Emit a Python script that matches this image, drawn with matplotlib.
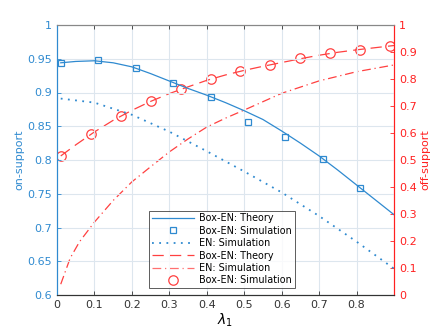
import matplotlib
matplotlib.use("Agg")
import matplotlib.pyplot as plt
from matplotlib.lines import Line2D

# ---- data ----
x_theory = [0.01, 0.05, 0.10, 0.15, 0.20, 0.25, 0.30, 0.35, 0.40, 0.45,
            0.50, 0.55, 0.60, 0.65, 0.70, 0.75, 0.80, 0.85, 0.90]
on_box_theory = [0.944, 0.946, 0.947, 0.944, 0.938, 0.928, 0.917, 0.906, 0.896, 0.885,
                 0.873, 0.860, 0.843, 0.825, 0.806, 0.785, 0.763, 0.741, 0.719]
x_sq = [0.01, 0.11, 0.21, 0.31, 0.41, 0.51, 0.61, 0.71, 0.81]
on_box_sim = [0.944, 0.948, 0.936, 0.914, 0.894, 0.856, 0.834, 0.801, 0.759]
x_en = [0.01, 0.10, 0.20, 0.30, 0.40, 0.50, 0.60, 0.70, 0.80, 0.90]
on_en_sim = [0.891, 0.885, 0.867, 0.842, 0.813, 0.783, 0.752, 0.717, 0.679, 0.639]

off_box_theory = [0.515, 0.556, 0.604, 0.647, 0.684, 0.717, 0.746, 0.771, 0.795, 0.815,
                  0.832, 0.847, 0.861, 0.875, 0.888, 0.899, 0.908, 0.916, 0.924]
x_ci = [0.01, 0.09, 0.17, 0.25, 0.33, 0.41, 0.49, 0.57, 0.65, 0.73, 0.81, 0.89]
off_box_sim = [0.515, 0.595, 0.663, 0.718, 0.762, 0.799, 0.829, 0.852, 0.876, 0.895, 0.908, 0.923]
x_en_off = [0.01, 0.035, 0.06, 0.10, 0.15, 0.20, 0.25, 0.30, 0.35, 0.40, 0.45,
            0.50, 0.60, 0.70, 0.80, 0.90]
off_en_sim = [0.04, 0.136, 0.197, 0.27, 0.35, 0.419, 0.475, 0.53, 0.578, 0.622, 0.655,
              0.685, 0.747, 0.793, 0.827, 0.852]

left_ticks = [0.6, 0.65, 0.7, 0.75, 0.8, 0.85, 0.9, 0.95, 1.0]
left_ticklabels = ['0.6', '0.65', '0.7', '0.75', '0.8', '0.85', '0.9', '0.95', '1']
right_ticks = [0, 0.1, 0.2, 0.3, 0.4, 0.5, 0.6, 0.7, 0.8, 0.9, 1.0]
right_ticklabels = ['0', '0.1', '0.2', '0.3', '0.4', '0.5', '0.6', '0.7', '0.8', '0.9', '1']
x_ticks = [0, 0.1, 0.2, 0.3, 0.4, 0.5, 0.6, 0.7, 0.8]
x_ticklabels = ['0', '0.1', '0.2', '0.3', '0.4', '0.5', '0.6', '0.7', '0.8']

BLUE = '#2f8ad0'
RED = '#ff2020'
LRED = '#ff4040'

fig = plt.figure(figsize=(4.36, 3.33), dpi=100)
ax = fig.add_axes([57/436, 1-295/333, 337/436, 270/333])
ax2 = ax.twinx()

ax.plot(x_theory, on_box_theory, '-', color=BLUE, lw=0.9)
ax.plot(x_sq, on_box_sim, 's', color=BLUE, mfc='none', ms=4.5, mew=0.9)
ax.plot(x_en, on_en_sim, linestyle=(0, (1, 3)), color=BLUE, lw=1.3)

ax2.plot(x_theory, off_box_theory, linestyle=(0, (9, 5)), color=LRED, lw=0.9)
ax2.plot(x_en_off, off_en_sim, linestyle=(0, (7, 3, 1, 3)), color=LRED, lw=0.9)
ax2.plot(x_ci, off_box_sim, 'o', color=LRED, mfc='none', ms=6.8, mew=0.9)

ax.set_xlim(0, 0.9)
ax.set_ylim(0.6, 1.0)
ax2.set_ylim(0, 1.0)
ax.set_xticks(x_ticks)
ax.set_xticklabels(x_ticklabels)
ax.set_yticks(left_ticks)
ax.set_yticklabels(left_ticklabels)
ax2.set_yticks(right_ticks)
ax2.set_yticklabels(right_ticklabels)

ax.grid(True, color='#dde6ee', lw=0.8)
ax.set_axisbelow(True)

fs = 8
ax.tick_params(axis='x', direction='in', length=3, labelsize=fs, colors='#333333', top=True, width=0.6)
ax.tick_params(axis='y', direction='in', length=3, labelsize=fs, colors=BLUE, width=0.6)
ax2.tick_params(axis='y', direction='in', length=3, labelsize=fs, colors=RED, width=0.6)
ax.spines['left'].set_color(BLUE)
ax2.spines['left'].set_color(BLUE)
ax2.spines['right'].set_color(RED)
ax.spines['right'].set_color(RED)
ax.spines['top'].set_color('#888888')
ax2.spines['top'].set_color('#888888')
ax.spines['bottom'].set_color('#333333')
ax2.spines['bottom'].set_color('#333333')

ax.set_ylabel('on-support', color=BLUE, fontsize=fs, labelpad=2)
ax2.set_ylabel('off-support', color=RED, fontsize=fs, labelpad=3)
ax.set_xlabel(r'$\lambda_1$', fontsize=10, labelpad=1)

handles = [
    Line2D([], [], color=BLUE, lw=0.9, ls='-'),
    Line2D([], [], color=BLUE, marker='s', mfc='none', ms=4.5, mew=0.9, ls='none'),
    Line2D([], [], color=BLUE, lw=1.3, ls=(0, (1, 3))),
    Line2D([], [], color=LRED, lw=0.9, ls=(0, (9, 5))),
    Line2D([], [], color='#ff7070', lw=0.9, ls=(0, (7, 3, 1, 3))),
    Line2D([], [], color=LRED, marker='o', mfc='none', ms=6.8, mew=0.9, ls='none'),
]
labels = ['Box-EN: Theory', 'Box-EN: Simulation', 'EN: Simulation',
          'Box-EN: Theory', 'EN: Simulation', 'Box-EN: Simulation']
leg = ax.legend(handles, labels, loc='lower left', bbox_to_anchor=(0.272, 0.025),
                fontsize=6.9, frameon=True, fancybox=False, edgecolor='#333333',
                handlelength=4.4, handletextpad=0.6, borderpad=0.3, labelspacing=0.25,
                borderaxespad=0)
leg.get_frame().set_linewidth(0.7)
ax.set_zorder(ax2.get_zorder() + 1)
ax.patch.set_visible(False)

fig.savefig('out.png', dpi=100)
